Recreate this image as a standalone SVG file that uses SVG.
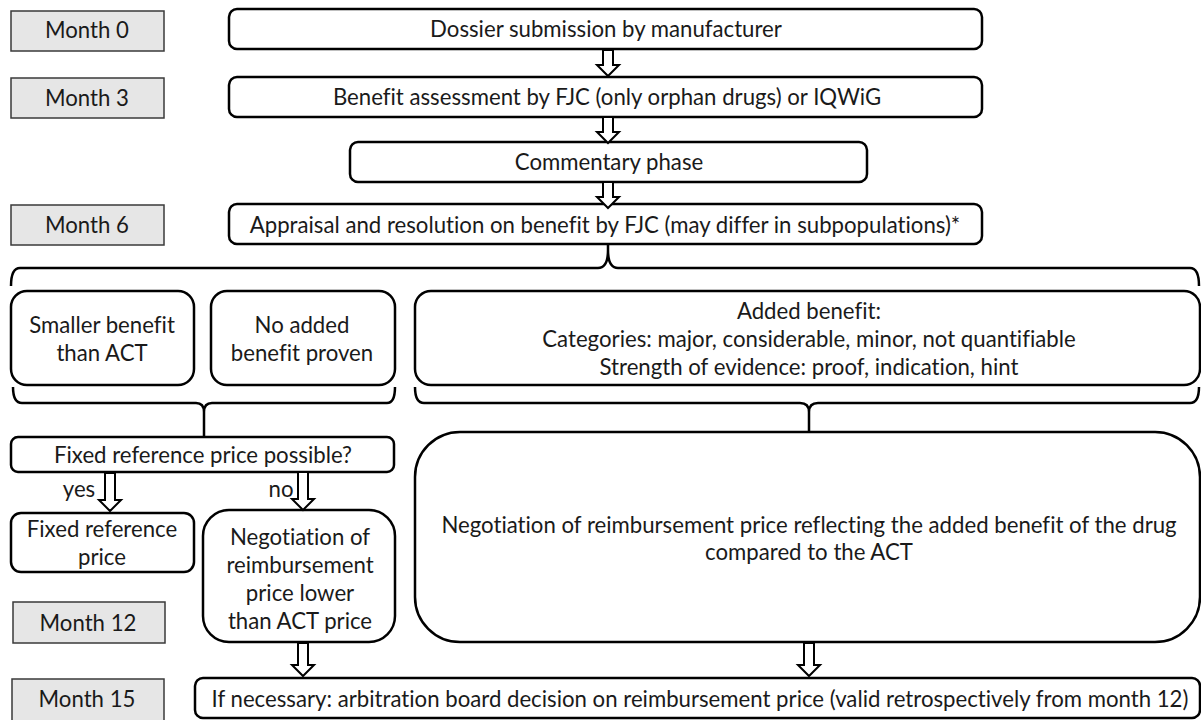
<svg xmlns="http://www.w3.org/2000/svg" width="1201" height="720" viewBox="0 0 1201 720">
<style>
.month rect{fill:#e6e6e6;stroke:#3a3a3a;stroke-width:1.5}
.box rect{fill:#fff;stroke:#000;stroke-width:2.5}
text{font-family:Lato,"Open Sans","Liberation Sans",sans-serif;font-size:22.2px;fill:#1a1a1a;text-anchor:middle;font-variant-ligatures:none;font-feature-settings:"liga" 0}
.arr{fill:#fff;stroke:#000;stroke-width:2;stroke-linejoin:miter}
.brace{fill:none;stroke:#000;stroke-width:2.5}
</style>
<defs>
<path id="ha" class="arr" d="M-5,0 L5,0 L5,15 L11,15 L0,26 L-11,15 L-5,15 Z"/>
<path id="hy" class="arr" d="M-5,0 L5,0 L5,27 L11,27 L0,38 L-11,27 L-5,27 Z"/>
<path id="hb" class="arr" d="M-5,0 L5,0 L5,22 L11,22 L0,33 L-11,22 L-5,22 Z"/>
</defs>
<rect width="1201" height="720" fill="#fff"/>

<g id="m0" class="month"><rect x="11" y="11" width="153" height="40"/><text x="87" y="38">Month 0</text></g>
<g id="m3" class="month"><rect x="11" y="78" width="153" height="40"/><text x="87" y="106">Month 3</text></g>
<g id="m6" class="month"><rect x="11" y="205" width="153" height="40"/><text x="87" y="233">Month 6</text></g>
<g id="m12" class="month"><rect x="13" y="602" width="152" height="41"/><text x="88" y="631">Month 12</text></g>
<g id="m15" class="month"><rect x="12" y="679" width="152" height="44"/><text x="87" y="707">Month 15</text></g>

<g id="dossier" class="box"><rect x="229" y="9" width="753" height="40" rx="8"/><text x="606" y="37">Dossier submission by manufacturer</text></g>
<g id="assessment" class="box"><rect x="229" y="77" width="753" height="40" rx="8"/><text x="607" y="105">Benefit assessment by FJC (only orphan drugs) or IQWiG</text></g>
<g id="commentary" class="box"><rect x="350" y="142" width="517" height="40" rx="8"/><text x="609" y="170">Commentary phase</text></g>
<g id="appraisal" class="box"><rect x="229" y="204" width="753" height="40" rx="8"/><text x="605" y="233">Appraisal and resolution on benefit by FJC (may differ in subpopulations)*</text></g>

<g id="smaller" class="box"><rect x="11" y="291" width="183" height="94" rx="16"/><text x="102" y="333">Smaller benefit</text><text x="102" y="361">than ACT</text></g>
<g id="noadded" class="box"><rect x="211" y="291" width="184" height="94" rx="16"/><text x="302" y="333">No added</text><text x="302" y="361">benefit proven</text></g>
<g id="added" class="box"><rect x="415" y="291" width="785" height="94" rx="16"/><text x="809" y="319">Added benefit:</text><text x="809" y="347">Categories: major, considerable, minor, not quantifiable</text><text x="809" y="375">Strength of evidence: proof, indication, hint</text></g>

<g id="fixedq" class="box"><rect x="11" y="437" width="383" height="35" rx="7"/><text x="203" y="463">Fixed reference price possible?</text></g>
<g id="fixed" class="box"><rect x="11" y="513" width="183" height="59" rx="10"/><text x="102" y="537">Fixed reference</text><text x="102" y="565">price</text></g>
<g id="neglow" class="box"><rect x="203" y="510" width="192" height="132" rx="26"/><text x="300" y="545">Negotiation of</text><text x="300" y="573">reimbursement</text><text x="300" y="601">price lower</text><text x="300" y="629">than ACT price</text></g>
<g id="negbig" class="box"><rect x="415" y="432" width="785" height="210" rx="45"/><text x="809" y="533">Negotiation of reimbursement price reflecting the added benefit of the drug</text><text x="809" y="560">compared to the ACT</text></g>
<g id="arbitration" class="box"><rect x="195" y="678" width="1005" height="40" rx="8"/><text x="700" y="707">If necessary: arbitration board decision on reimbursement price (valid retrospectively from month 12)</text></g>

<g id="connectors">
<use href="#ha" x="608" y="50"/>
<use href="#ha" x="608" y="117"/>
<use href="#ha" x="608" y="182"/>
<path class="brace" d="M11,286 Q11,268 20,268 L598,268 Q608,268 608,250 L608,244 M608,250 Q608,268 618,268 L1190,268 Q1199,268 1199,286"/>
<path class="brace" d="M13,387 Q13,403 22,403 L196,403 Q204,403 204,412 L204,437 M204,412 Q204,403 212,403 L387,403 Q395,403 395,387"/>
<path class="brace" d="M415,387 Q415,403 424,403 L800,403 Q809,403 809,412 L809,432 M809,412 Q809,403 818,403 L1190,403 Q1199,403 1199,387"/>
<use href="#hy" x="110" y="473"/>
<use href="#hy" x="303" y="472"/>
<use href="#hb" x="303" y="643"/>
<use href="#hb" x="809" y="643"/>
<text x="79" y="497">yes</text>
<text x="281" y="497">no</text>
</g>
</svg>
